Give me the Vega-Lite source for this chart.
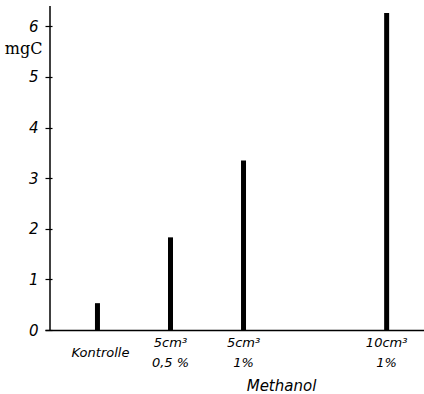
{
  "$schema": "https://vega.github.io/schema/vega-lite/v6.json",
  "autosize": "none",
  "padding": {"left": 45, "top": 6, "right": 0, "bottom": 64},
  "width": 379,
  "height": 324,
  "background": "white",
  "config": {"view": {"stroke": null}},
  "data": {
    "values": [
      {"pos": 1, "mgC": 0.53, "label": "Kontrolle"},
      {"pos": 2, "mgC": 1.83, "label": "5cm³\n0,5 %"},
      {"pos": 3, "mgC": 3.35, "label": "5cm³\n1%"},
      {"pos": 4.96, "mgC": 6.26, "label": "10cm³\n1%"}
    ]
  },
  "layer": [
    {
      "mark": {"type": "bar", "width": 5, "color": "black"},
      "encoding": {
        "x": {
          "field": "pos",
          "type": "quantitative",
          "scale": {"domain": [0.35, 5.403], "nice": false, "zero": false},
          "axis": {
            "labels": false,
            "ticks": false,
            "grid": false,
            "domainColor": "black",
            "domainWidth": 1.5,
            "title": "Methanol",
            "titleFont": "DejaVu Sans",
            "titleFontStyle": "italic",
            "titleFontWeight": "normal",
            "titleFontSize": 15,
            "titleColor": "black",
            "titleX": 236,
            "titleY": 55,
            "titleAlign": "center",
            "titleBaseline": "middle"
          }
        },
        "y": {
          "field": "mgC",
          "type": "quantitative",
          "scale": {"domain": [0, 6.4], "nice": false},
          "axis": {
            "values": [0, 1, 2, 3, 4, 5, 6],
            "offset": -7,
            "grid": false,
            "domain": false,
            "ticks": true,
            "tickSize": 7,
            "tickWidth": 1.2,
            "tickColor": "black",
            "labelPadding": 7,
            "labelFont": "DejaVu Sans",
            "labelFontStyle": "italic",
            "labelFontSize": 15,
            "labelColor": "black",
            "title": "mgC",
            "titleAngle": 0,
            "titleFont": "DejaVu Serif",
            "titleFontWeight": "normal",
            "titleFontSize": 16,
            "titleColor": "black",
            "titleX": -10,
            "titleY": 42,
            "titleAlign": "right",
            "titleBaseline": "middle"
          }
        }
      }
    },
    {
      "data": {"values": [{}]},
      "mark": {"type": "rule", "color": "black", "strokeWidth": 1.5},
      "encoding": {
        "x": {"datum": 0.35},
        "y": {"datum": 0},
        "y2": {"datum": 6.4}
      }
    },
    {
      "transform": [{"filter": "indexof(datum.label, '\\n') < 0"}],
      "mark": {
        "type": "text",
        "baseline": "middle",
        "align": "center",
        "dy": 23,
        "dx": 3,
        "font": "DejaVu Sans",
        "fontStyle": "italic",
        "fontSize": 13,
        "color": "black"
      },
      "encoding": {
        "x": {"field": "pos", "type": "quantitative"},
        "y": {"datum": 0},
        "text": {"field": "label", "type": "nominal"}
      }
    },
    {
      "transform": [{"filter": "indexof(datum.label, '\\n') >= 0"}],
      "mark": {
        "type": "text",
        "baseline": "middle",
        "align": "center",
        "lineBreak": "\n",
        "lineHeight": 20,
        "dy": 13,
        "dx": 0,
        "font": "DejaVu Sans",
        "fontStyle": "italic",
        "fontSize": 13,
        "color": "black"
      },
      "encoding": {
        "x": {"field": "pos", "type": "quantitative"},
        "y": {"datum": 0},
        "text": {"field": "label", "type": "nominal"}
      }
    }
  ]
}
